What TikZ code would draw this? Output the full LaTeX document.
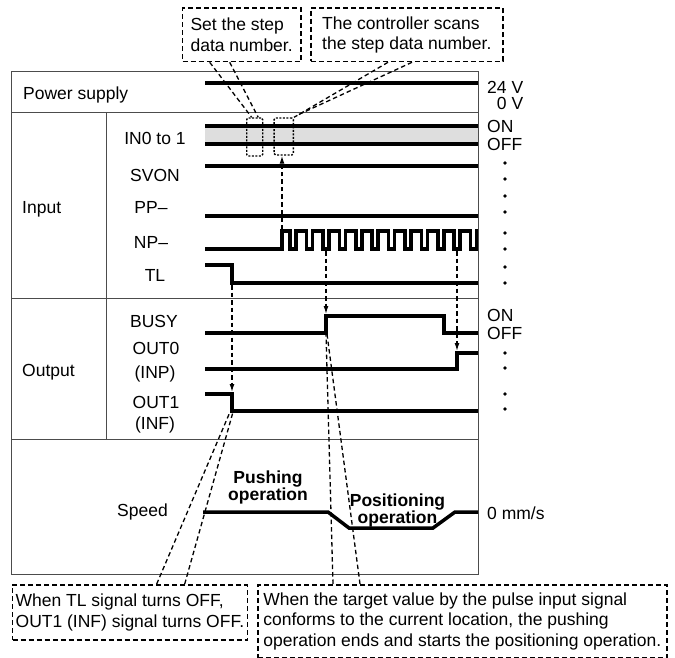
\documentclass[tikz,border=0pt]{standalone}
\usepackage{fontspec}
\setmainfont{Liberation Sans}
\usetikzlibrary{arrows.meta}
\begin{document}
\begin{tikzpicture}[x=1pt, y=-1pt, >={Latex[length=8pt,width=5pt]},
	every node/.style={font=\fontsize{17.5}{20.5}\selectfont, inner sep=0pt},
	frame/.style={draw=black!70, line width=0.9pt},
	wave/.style={line width=3.5pt},
	lead/.style={line width=1.3pt, dash pattern=on 4.5pt off 3pt},
	callout/.style={draw, line width=1.6pt, dash pattern=on 5pt off 3pt, align=left, anchor=north west},
	spot/.style={draw, line width=1.4pt, dash pattern=on 2pt off 1.5pt, rounded corners=1.5pt},
	level/.style={circle, fill, minimum size=3.6pt}]
	\useasboundingbox (0,0) rectangle (675,658);
	
	% Frame
	\draw[frame] (11.7,71.7) rectangle (478,574);
	\draw[frame] (11.7,112.3) -- (478,112.3); % power / input
	\draw[frame] (11.7,298.5) -- (478,298.5); % input / output
	\draw[frame] (11.7,439) -- (478,439); % output / speed
	\draw[frame] (106,112.3) -- (106,439);
	
	% Row labels
	\node[anchor=base west] (power) at (23,99.5) {Power supply};
	\node[anchor=base west] (input) at (22,213.4) {Input};
	\node[anchor=base west] (output) at (22,376.4) {Output};
	\node[anchor=base east] (speed) at (168,516.4) {Speed};
	
	% Signal names
	\node[anchor=base] (in0) at (155,145) {IN0 to 1};
	\node[anchor=base] (svon) at (155,181.4) {SVON};
	\node[anchor=base] (pp) at (151,213.4) {PP–};
	\node[anchor=base] (np) at (151,248.4) {NP–};
	\node[anchor=base] (tl) at (155,281.4) {TL};
	\node[anchor=base] (busy) at (154,327.4) {BUSY};
	\node[anchor=base] (out0) at (156,354.4) {OUT0};
	\node[anchor=base] (inp) at (155,378.4) {(INP)};
	\node[anchor=base] (out1) at (156,408.4) {OUT1};
	\node[anchor=base] (inf) at (155,429.4) {(INF)};
	
	% Signals
	\draw[wave] (205,83) -- (478,83); % power
	\fill[black!13] (205,126) rectangle (478,144);
	\draw[wave] (205,126) -- (478,126); % IN0 to 1
	\draw[wave] (205,144) -- (478,144);
	\draw[wave] (205,166) -- (478,166); % SVON
	\draw[wave] (205,216) -- (478,216); % PP-
	\draw[wave] (205,249) -- (282,249) -- (282,231)
		\foreach \k in {0,...,11} { -- ({290.2+16.4*\k},231) -- ({290.2+16.4*\k},249) -- ({296.2+16.4*\k},249) -- ({296.2+16.4*\k},231) } -- (478,231); % NP-
	\draw[wave] (205,265) -- (232,265) -- (232,283) -- (478,283); % TL
	\draw[wave] (205,333) -- (326,333) -- (326,316) -- (444,316) -- (444,333) -- (478,333); % BUSY
	\draw[wave] (205,369) -- (457,369) -- (457,353) -- (478,353); % OUT0
	\draw[wave] (205,394) -- (232,394) -- (232,411) -- (478,411); % OUT1
	\draw[wave] (203,512) -- (328,512) -- (349,528) -- (433,528) -- (455,512) -- (478,512); % speed
	
	% Levels on the right
	\node[anchor=base west] (v24) at (487,93.4) {24 V};
	\node[anchor=base east] (v0) at (v24.base east |- 0,109.4) {0 V};
	\node[anchor=base west] (in on) at (487,132.4) {ON};
	\node[anchor=base west] (in off) at (487,150.4) {OFF};
	\node[anchor=base west] (out on) at (487,321.4) {ON};
	\node[anchor=base west] (out off) at (487,339.4) {OFF};
	\node[anchor=base west] (zero) at (487,519.4) {0 mm/s};
	\foreach \y in {163,179,196,212,233,249,267,283,353,368,394,409}
		\node[level] (dot\y) at (505,\y) {};
	
	% Operations
	\node[font=\fontsize{17.5}{17}\selectfont\bfseries, align=center] (push) at (268,487) {Pushing\\operation};
	\node[font=\fontsize{17.5}{17}\selectfont\bfseries, align=center] (posi) at (397.5,510) {Positioning\\operation};
	
	% Scanned spots
	\node[spot, minimum width=16pt, minimum height=38pt] (spot a) at (254.7,137) {};
	\node[spot, minimum width=19.3pt, minimum height=37pt] (spot b) at (283.7,136.5) {};
	
	% Call-outs
	\node[callout, minimum width=118.3pt, minimum height=53.4pt] (set box) at (181.7,7.3) {Set the step\\data number.};
	\node[callout, minimum width=192pt, minimum height=53.4pt] (scan box) at (310,7.3) {The controller scans\\the step data number.};
	\node[callout, minimum width=234.8pt, minimum height=55pt] (tl box) at (11.7,584) {When TL signal turns OFF,\\OUT1 (INF) signal turns OFF.};
	\node[callout, minimum width=409pt, minimum height=73pt] (target box) at (257,584) {When the target value by the pulse input signal\\conforms to the current location, the pushing\\operation ends and starts the positioning operation.};
	
	% Events
	\coordinate (np rise) at (282,229);
	\coordinate (tl fall) at (232,285);
	\coordinate (np dip a) at (326,251);
	\coordinate (np dip b) at (457,251);
	\coordinate (out1 high) at (232,392);
	\coordinate (busy rise) at (326,314);
	\coordinate (out0 rise) at (457,351);
	\coordinate (out1 fall) at (232,412);
	\coordinate (busy low) at (326,334);
	
	% Arrows
	\draw[lead,->] (np rise) -- (np rise |- spot b.south);
	\draw[lead,->] (tl fall) -- (out1 high);
	\draw[lead,->] (np dip a) -- (busy rise);
	\draw[lead,->] (np dip b) -- (out0 rise);
	
	% Leaders
	\draw[lead] ([xshift=28pt]set box.south west) -- ([xshift=-3pt]spot a.north);
	\draw[lead] ([xshift=48pt]set box.south west) -- ([xshift=3.5pt]spot a.north);
	\draw[lead] ([xshift=78pt]scan box.south west) -- (spot b.north east);
	\draw[lead] ([xshift=102pt]scan box.south west) -- ([xshift=3pt,yshift=2pt]spot b.north east);
	\draw[lead] ([xshift=145pt]tl box.north west) -- ([xshift=-2pt]out1 fall);
	\draw[lead] ([xshift=173pt]tl box.north west) -- ([xshift=1pt]out1 fall);
	\draw[lead] ([xshift=76pt]target box.north west) -- (busy low);
	\draw[lead] ([xshift=103pt]target box.north west) -- ([xshift=1pt]busy low);
\end{tikzpicture}
\end{document}
